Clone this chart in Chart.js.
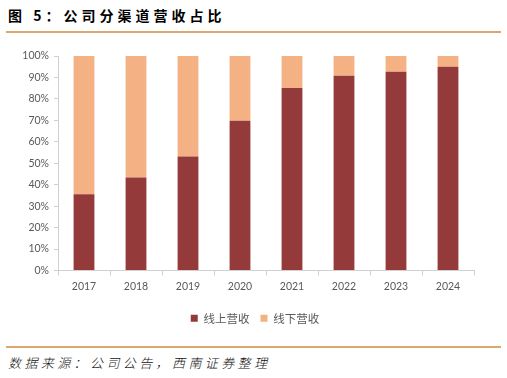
<!DOCTYPE html>
<html>
<head>
<meta charset="utf-8">
<script src="https://cdn.jsdelivr.net/npm/chart.js@4/dist/chart.umd.min.js"></script>
<style>
  html, body { margin: 0; padding: 0; background: #fff; }
  #wrap { position: relative; width: 507px; height: 378px; overflow: hidden; }
  #title {
    position: absolute; left: 8px; top: 5px;
    font: bold 14px "Noto Sans CJK SC", sans-serif; letter-spacing: 4px; color: #000;
  }
  .rule { position: absolute; left: 6px; width: 495px; height: 2px; background: #D9A86C; }
  #foot {
    position: absolute; left: 8px; top: 353px;
    font: italic 13px "Noto Sans CJK SC", sans-serif; font-weight: 300; letter-spacing: 3.4px; color: #111;
  }
  #chartBox { position: absolute; left: 0; top: 0; width: 507px; height: 345px; }
</style>
</head>
<body>
<div id="wrap">
  <div id="title">图 5：公司分渠道营收占比</div>
  <div class="rule" style="top:31px"></div>
  <div id="chartBox"><canvas id="chartChannel"></canvas></div>
  <div class="rule" style="top:346px"></div>
  <div id="foot">数据来源：公司公告，西南证券整理</div>
</div>
<script>
  /* Datos */
  const years = ['2017', '2018', '2019', '2020', '2021', '2022', '2023', '2024'];
  const online = [35.5, 43.4, 53.1, 69.8, 85.1, 90.8, 92.7, 95.0];
  const offline = [64.5, 56.6, 46.9, 30.2, 14.9, 9.2, 7.3, 5.0];
  const seriesNames = ['线上营收', '线下营收'];

  const tickFont = { family: 'Lato, "Noto Sans CJK SC", sans-serif', size: 10.5 };

  /* mover la leyenda un poco a la derecha */
  const legendShift = {
    id: 'legendShift',
    afterLayout: (chart) => {
      const lg = chart.legend;
      if (!lg) return;
      const w = lg.right - lg.left;
      lg.left = 18;
      lg.right = 18 + w;
    },
  };

  const ctx = document.getElementById('chartChannel').getContext('2d');
  const chartChannel = new Chart(ctx, {
    type: 'bar',
    plugins: [legendShift],
    data: {
      labels: years,
      datasets: [
        {
          label: seriesNames[0],
          data: online,
          backgroundColor: '#943A3A',
          barPercentage: 0.8,
          categoryPercentage: 0.5,
        },
        {
          label: seriesNames[1],
          data: offline,
          backgroundColor: '#F4B183',
          barPercentage: 0.8,
          categoryPercentage: 0.5,
        },
      ],
    },
    options: {
      responsive: true,
      maintainAspectRatio: false,
      animation: false,
      layout: { padding: { left: 0, right: 33, top: 56, bottom: 11 } },
      scales: {
        x: {
          stacked: true,
          border: { color: '#D0D0D0' },
          grid: { offset: true, drawOnChartArea: false, tickLength: 5, color: '#D0D0D0' },
          ticks: { color: '#595959', font: tickFont, padding: 5 },
          afterFit: (scale) => { scale.height = 31; },
        },
        y: {
          stacked: true,
          min: 0,
          max: 100,
          border: { color: '#D0D0D0' },
          grid: { drawOnChartArea: false, tickLength: 4, color: '#D0D0D0' },
          ticks: {
            stepSize: 10,
            color: '#595959',
            font: tickFont,
            padding: 5,
            callback: (v) => v + '%',
          },
          afterFit: (scale) => { scale.width = 58; },
        },
      },
      plugins: {
        legend: {
          position: 'bottom',
          labels: {
            boxWidth: 7,
            boxHeight: 7,
            padding: 11,
            color: '#595959',
            font: { family: '"Noto Sans CJK SC", sans-serif', size: 11.5 },
          },
        },
        tooltip: { enabled: false },
      },
    },
  });
</script>
</body>
</html>
